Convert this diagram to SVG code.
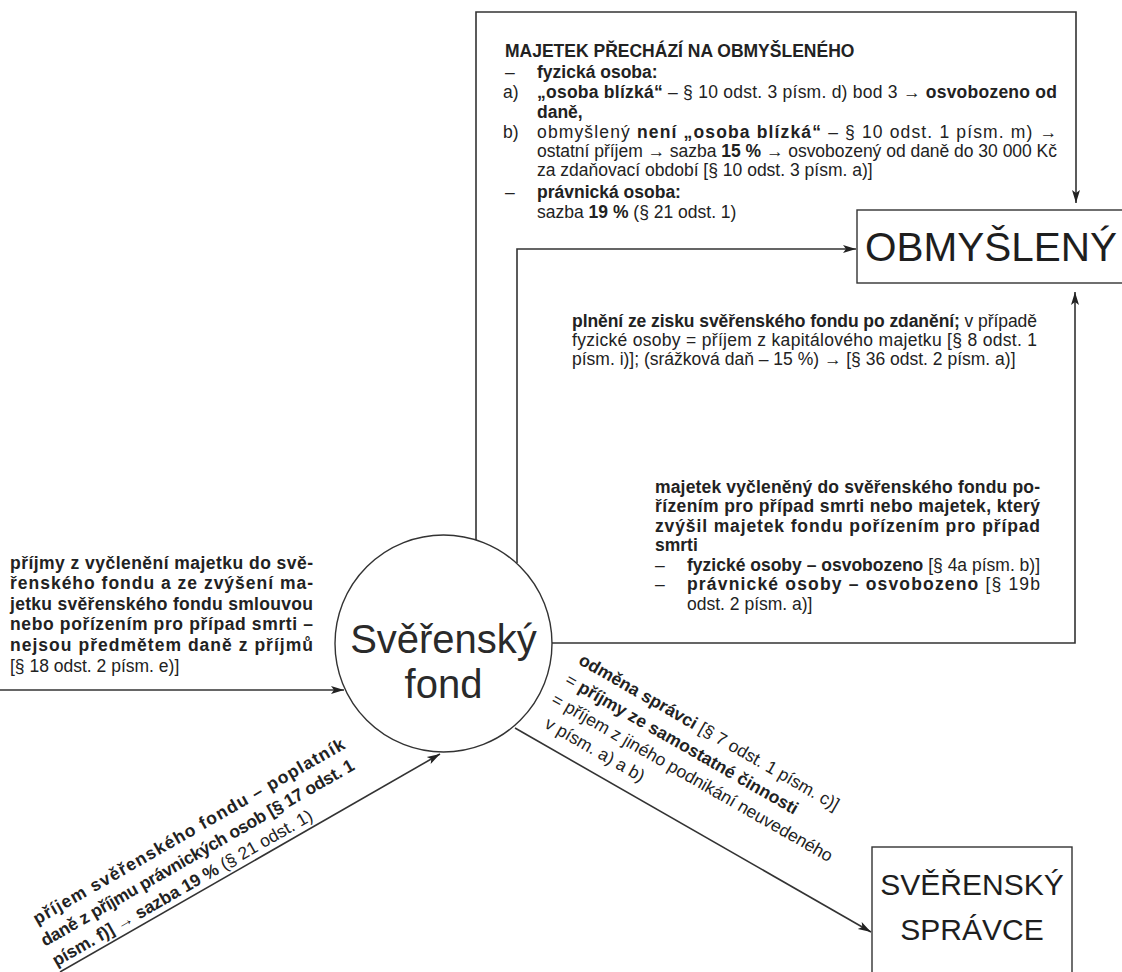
<svg xmlns="http://www.w3.org/2000/svg" width="1122" height="972" viewBox="0 0 1122 972">
<defs>
<marker id="arr" markerUnits="userSpaceOnUse" markerWidth="14" markerHeight="10" refX="13" refY="5" orient="auto"><path d="M0,1 L13,5 L0,9 L3,5 z" fill="#222"/></marker>
</defs>
<style>
text{font-family:"Liberation Sans",Arial,Helvetica,sans-serif;fill:#222;font-size:17.5px}
.b{font-weight:bold}
.conn{fill:none;stroke:#333;stroke-width:1.6}
.node{fill:#fff;stroke:#333;stroke-width:1.4}
.big{font-size:40.5px;fill:#1e1e1e}
.mid{font-size:30px;fill:#1e1e1e}
.circ{font-size:40px;fill:#2a2a2a}
</style>
<rect width="1122" height="972" fill="#fff"/>

<g id="connectors">
<polyline class="conn" points="476,540 476,12 1076,12 1076,203" marker-end="url(#arr)"/>
<polyline class="conn" points="517,563 517,249 856,249" marker-end="url(#arr)"/>
<polyline class="conn" points="552,643 1075,643 1075,292" marker-end="url(#arr)"/>
<line class="conn" x1="0" y1="690" x2="344" y2="690" marker-end="url(#arr)"/>
<line class="conn" x1="60" y1="972" x2="440" y2="754" marker-end="url(#arr)"/>
<line class="conn" x1="515" y1="728" x2="871" y2="932" marker-end="url(#arr)"/>
</g>

<g id="node-fond">
<circle class="node" cx="443.5" cy="643.5" r="108.5"/>
<text class="circ" x="443.5" y="653" text-anchor="middle">Svěřenský</text>
<text class="circ" x="443.5" y="698" text-anchor="middle">fond</text>
</g>

<g id="node-obmysleny">
<rect class="node" x="857" y="210" width="290" height="73"/>
<text class="big" x="865" y="261">OBMYŠLENÝ</text>
</g>

<g id="node-spravce">
<rect class="node" x="872" y="847" width="200" height="140"/>
<text class="mid" x="972" y="895" text-anchor="middle">SVĚŘENSKÝ</text>
<text class="mid" x="972" y="940" text-anchor="middle">SPRÁVCE</text>
</g>

<g id="label-top">
<text class="b" x="505" y="57">MAJETEK PŘECHÁZÍ NA OBMYŠLENÉHO</text>
<text x="505" y="78">–</text><text class="b" x="537" y="78">fyzická osoba:</text>
<text x="503" y="98">a)</text>
<text x="537" y="98" textLength="520" lengthAdjust="spacing"><tspan class="b">„osoba blízká“</tspan> – § 10 odst. 3 písm. d) bod 3 → <tspan class="b">osvobozeno od</tspan></text>
<text class="b" x="537" y="118">daně,</text>
<text x="503" y="138">b)</text>
<text x="537" y="138" textLength="520" lengthAdjust="spacing">obmyšlený <tspan class="b">není „osoba blízká“</tspan> – § 10 odst. 1 písm. m) →</text>
<text x="537" y="157" textLength="520" lengthAdjust="spacing">ostatní příjem → sazba <tspan class="b">15 %</tspan> → osvobozený od daně do 30 000 Kč</text>
<text x="537" y="176">za zdaňovací období [§ 10 odst. 3 písm. a)]</text>
<text x="505" y="198">–</text><text class="b" x="537" y="198">právnická osoba:</text>
<text x="537" y="218">sazba <tspan class="b">19 %</tspan> (§ 21 odst. 1)</text>
</g>

<g id="label-mid">
<text x="572" y="327" textLength="465" lengthAdjust="spacing"><tspan class="b">plnění ze zisku svěřenského fondu po zdanění;</tspan> v případě</text>
<text x="572" y="346" textLength="465" lengthAdjust="spacing">fyzické osoby = příjem z kapitálového majetku [§ 8 odst. 1</text>
<text x="572" y="365">písm. i)]; (srážková daň – 15 %) → [§ 36 odst. 2 písm. a)]</text>
</g>

<g id="label-right">
<text class="b" x="655" y="493" textLength="385" lengthAdjust="spacing">majetek vyčleněný do svěřenského fondu po-</text>
<text class="b" x="655" y="512" textLength="385" lengthAdjust="spacing">řízením pro případ smrti nebo majetek, který</text>
<text class="b" x="655" y="532" textLength="385" lengthAdjust="spacing">zvýšil majetek fondu pořízením pro případ</text>
<text class="b" x="655" y="551">smrti</text>
<text x="655" y="571">–</text><text x="687" y="571"><tspan class="b">fyzické osoby – osvobozeno</tspan> [§ 4a písm. b)]</text>
<text x="655" y="590">–</text><text x="687" y="590" textLength="353" lengthAdjust="spacing"><tspan class="b">právnické osoby – osvobozeno</tspan> [§ 19b</text>
<text x="687" y="610">odst. 2 písm. a)]</text>
</g>

<g id="label-left">
<text class="b" x="10" y="569" textLength="303" lengthAdjust="spacing">příjmy z vyčlenění majetku do svě-</text>
<text class="b" x="10" y="589" textLength="303" lengthAdjust="spacing">řenského fondu a ze zvýšení ma-</text>
<text class="b" x="10" y="610" textLength="303" lengthAdjust="spacing">jetku svěřenského fondu smlouvou</text>
<text class="b" x="10" y="630" textLength="303" lengthAdjust="spacing">nebo pořízením pro případ smrti –</text>
<text class="b" x="10" y="651" textLength="303" lengthAdjust="spacing">nejsou předmětem daně z příjmů</text>
<text x="10" y="672">[§ 18 odst. 2 písm. e)]</text>
</g>

<g id="label-bottom-left" transform="translate(63,970) rotate(-29.8)">
<text class="b" x="0" y="-52" textLength="356" lengthAdjust="spacing">příjem svěřenského fondu – poplatník</text>
<text class="b" x="-4" y="-29" textLength="358" lengthAdjust="spacing">daně z příjmu právnických osob [§ 17 odst. 1</text>
<text x="-4" y="-6"><tspan class="b">písm. f)] → sazba 19 %</tspan> (§ 21 odst. 1)</text>
</g>

<g id="label-bottom-right" transform="translate(517,729) rotate(29.8)">
<text x="20" y="-87"><tspan class="b">odměna správci</tspan> [§ 7 odst. 1 písm. c)]</text>
<text x="18" y="-63">= <tspan class="b">příjmy ze samostatné činnosti</tspan></text>
<text x="16" y="-39">= příjem z jiného podnikání neuvedeného</text>
<text x="22" y="-15">v písm. a) a b)</text>
</g>
</svg>
